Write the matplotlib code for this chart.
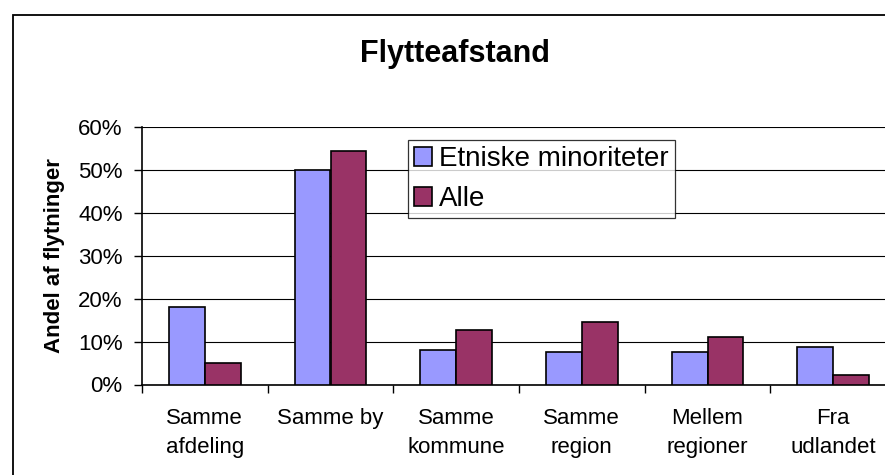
#!/usr/bin/env python3
"""Flytteafstand: grouped bar chart, Excel-style look."""
import matplotlib
matplotlib.use("Agg")
import matplotlib.pyplot as plt
import numpy as np
from matplotlib.patches import Rectangle
from matplotlib.ticker import FixedLocator, PercentFormatter

plt.rcParams["font.family"] = ["Liberation Sans", "DejaVu Sans"]

CATEGORIES = ["Samme\nafdeling", "Samme by", "Samme\nkommune",
              "Samme\nregion", "Mellem\nregioner", "Fra\nudlandet"]
ETNISKE = [0.180, 0.500, 0.081, 0.075, 0.076, 0.087]
ALLE = [0.051, 0.544, 0.128, 0.146, 0.110, 0.021]
SERIES_LABELS = ["Etniske minoriteter", "Alle"]
COLORS = ["#9999FF", "#993366"]

W, H = 885, 475
fig = plt.figure(figsize=(W / 100, H / 100), dpi=100)

# outer chart frame (runs off the right/bottom edge like the source)
fig.patches.append(Rectangle((13 / W, -0.1), 1.2, (H - 15) / H + 0.1,
                             transform=fig.transFigure, fill=False,
                             edgecolor="black", linewidth=1.3))

left, right, top, bottom = 142, 896, 127, 384.5
ax = fig.add_axes([left / W, (H - bottom) / H, (right - left) / W, (bottom - top) / H])

x = np.arange(len(CATEGORIES))
bw = 1 / 3.5
for i, (vals, lab) in enumerate(zip([ETNISKE, ALLE], SERIES_LABELS)):
    ax.bar(x + (i - 0.5) * bw, vals, width=bw, color=COLORS[i],
           edgecolor="black", linewidth=1.2, label=lab, zorder=3)

ax.set_xlim(-0.5, len(CATEGORIES) - 0.5)
ax.set_ylim(0, 0.6)
ax.set_yticks(np.arange(0, 0.61, 0.1))
ax.yaxis.set_major_formatter(PercentFormatter(1.0, decimals=0))
ax.set_xticks(x)
ax.set_xticklabels(CATEGORIES, fontsize=16)
for t in ax.get_xticklabels():
    t.set_linespacing(1.5)
ax.xaxis.set_minor_locator(FixedLocator(np.arange(-0.5, len(CATEGORIES), 1.0)))
ax.tick_params(axis="x", which="major", length=0, pad=17)
ax.tick_params(axis="x", which="minor", length=6, width=1.0, direction="out")
ax.tick_params(axis="y", length=6, width=1.0, direction="out", pad=8, labelsize=16)

ax.yaxis.grid(True, color="black", linewidth=0.8, zorder=0)
ax.set_axisbelow(True)
for s in ("top", "right"):
    ax.spines[s].set_visible(False)
ax.spines["left"].set_linewidth(1.2)
ax.spines["bottom"].set_linewidth(1.2)

ax.set_ylabel("Andel af flytninger", fontsize=16, fontweight="bold", labelpad=9)

fig.text(454.7 / W, 1 - 61.7 / H, "Flytteafstand", ha="center", va="baseline",
         fontsize=22, fontweight="bold")

leg = ax.legend(loc="upper left", bbox_to_anchor=((408.3 - left) / (right - left),
                                                 (bottom - 140) / (bottom - top)),
                borderaxespad=0, fontsize=20, frameon=True, fancybox=False,
                handlelength=0.65, handleheight=0.65, handletextpad=0.25,
                labelspacing=0.5, borderpad=0.22)
leg.get_frame().set_edgecolor("black")
leg.get_frame().set_linewidth(0.9)

fig.savefig("out.png", dpi=100)
